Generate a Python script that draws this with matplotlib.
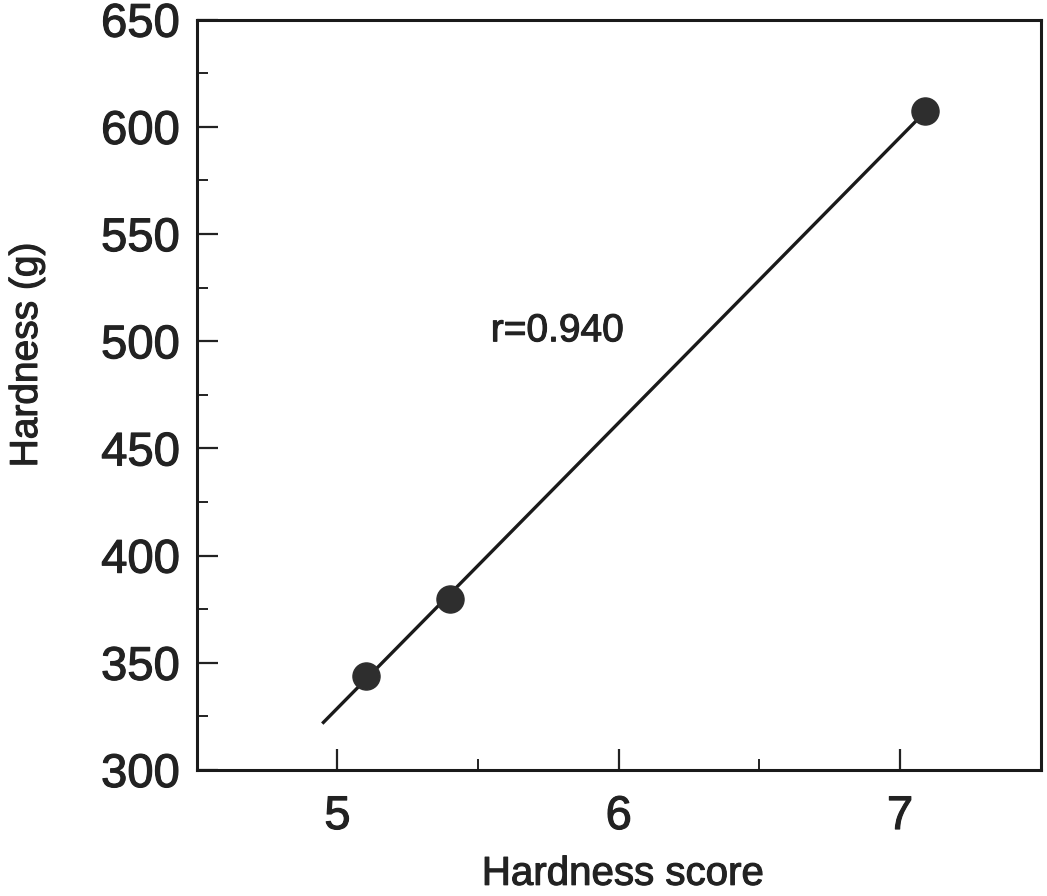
import numpy as np
import matplotlib
matplotlib.use("Agg")
import matplotlib.pyplot as plt
import matplotlib.patheffects as pe
from matplotlib.ticker import MultipleLocator

# Data
hardness_score = [5.1, 5.4, 7.09]
hardness_g = [344, 380, 607.5]
fit_range = [4.95, 7.12]
r_label = "r=0.940"
x_ticks = [5, 6, 7]
y_ticks = [300, 350, 400, 450, 500, 550, 600, 650]

plt.rcParams['font.family'] = ['Liberation Sans', 'DejaVu Sans']
ink = '#222222'
thick = [pe.withStroke(linewidth=0.8, foreground=ink)]

fig = plt.figure(figsize=(10.47, 8.96), dpi=100)
ax = fig.add_axes([0.188, 0.1406, 0.806, 0.8374])

slope, intercept = np.polyfit(hardness_score, hardness_g, 1)
xs = np.array(fit_range)
ax.plot(xs, slope * xs + intercept, color='#1a1a1a', lw=2.4, zorder=2)
ax.plot(hardness_score, hardness_g, 'o', color='#2e2e2e', markersize=19.5, zorder=3)

ax.set_xlim(4.5, 7.5)
ax.set_ylim(300, 650)
ax.set_xticks(x_ticks)
ax.set_yticks(y_ticks)
ax.xaxis.set_minor_locator(MultipleLocator(0.5))
ax.yaxis.set_minor_locator(MultipleLocator(25))

ax.tick_params(which='major', direction='in', length=15, width=1.6, labelsize=34, colors=ink)
ax.tick_params(which='minor', direction='in', length=8, width=1.4, colors=ink)
ax.tick_params(axis='x', which='major', pad=18)
ax.tick_params(axis='y', which='major', pad=12)
for s in ax.spines.values():
    s.set_linewidth(2.2)
    s.set_color('#1a1a1a')

ax.set_xlabel('Hardness score', fontsize=29, color=ink)
ax.set_ylabel('Hardness (g)', fontsize=28, color=ink)
ax.xaxis.set_label_coords(0.505, -0.113)
ax.yaxis.set_label_coords(-0.18, 0.553)

t = ax.text(5.545, 500, r_label, fontsize=28, ha='left', va='baseline', color=ink)

for lab in ax.get_xticklabels() + ax.get_yticklabels() + [ax.xaxis.label, ax.yaxis.label, t]:
    lab.set_path_effects(thick)

fig.savefig('out.png', dpi=100)
